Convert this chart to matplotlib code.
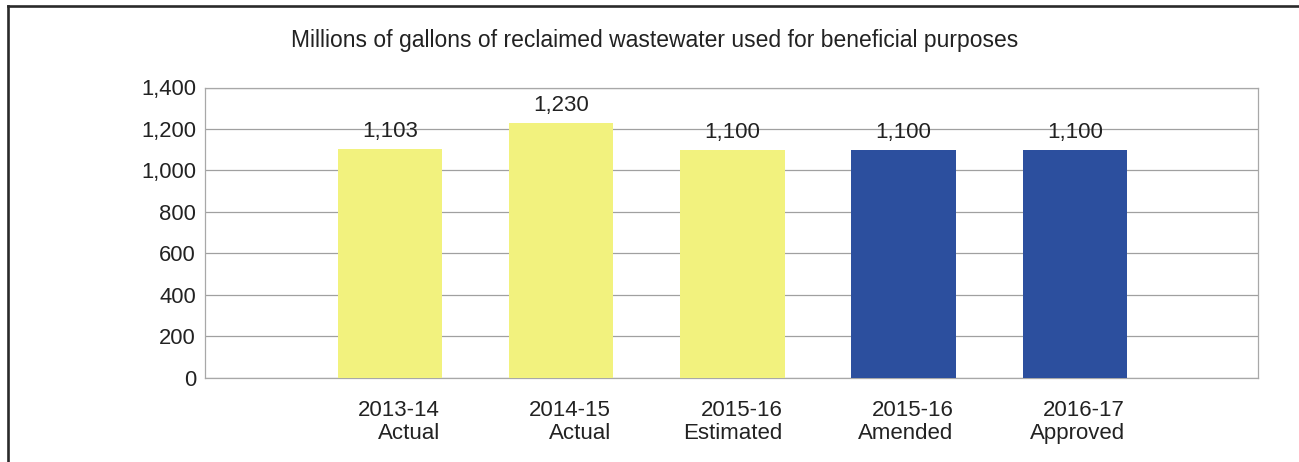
import matplotlib
matplotlib.use("Agg")
import matplotlib.pyplot as plt
import matplotlib.transforms as mtransforms
from matplotlib.lines import Line2D
import numpy as np

plt.rcParams['font.family'] = ['Liberation Sans', 'DejaVu Sans']

# ---- data ----
categories = ["2013-14\nActual", "2014-15\nActual", "2015-16\nEstimated",
              "2015-16\nAmended", "2016-17\nApproved"]
values = [1103, 1230, 1100, 1100, 1100]
value_labels = ["1,103", "1,230", "1,100", "1,100", "1,100"]
bar_colors = ["#F2F27E", "#F2F27E", "#F2F27E", "#2C4F9E", "#2C4F9E"]
yticks = [0, 200, 400, 600, 800, 1000, 1200, 1400]
ytick_labels = ["0", "200", "400", "600", "800", "1,000", "1,200", "1,400"]
title = "Millions of gallons of reclaimed wastewater used for beneficial purposes"

W, H, DPI = 1299, 462, 100
fig = plt.figure(figsize=(W / DPI, H / DPI), dpi=DPI)
fig.patch.set_facecolor("white")

ax = fig.add_axes([205 / W, 1 - 377.5 / H, (1258 - 205) / W, (377.5 - 87.5) / H])
x = np.arange(len(categories))
ax.bar(x, values, width=0.61, color=bar_colors, zorder=3)

ax.set_xlim(-1.08, 5.07)
ax.set_ylim(0, 1400)
ax.set_yticks(yticks)
ax.set_yticklabels(ytick_labels, fontsize=15.8, color="#222222")
ax.tick_params(axis="y", length=0, pad=6.5)

ax.set_xticks(x)
ax.set_xticklabels(categories, fontsize=16, color="#222222",
                   ha="right", multialignment="right", linespacing=1.12)
ax.tick_params(axis="x", length=0, pad=16)
offset = mtransforms.ScaledTranslation(50 / DPI, 0, fig.dpi_scale_trans)
for lab in ax.get_xticklabels():
    lab.set_transform(lab.get_transform() + offset)

ax.set_axisbelow(True)
ax.yaxis.grid(True, color="#A0A0A0", linewidth=0.9)
for side in ["left", "right", "top", "bottom"]:
    ax.spines[side].set_color("#A8A8A8")
    ax.spines[side].set_linewidth(0.9)

for xi, v, lbl in zip(x, values, value_labels):
    ax.annotate(lbl, (xi, v), xytext=(0, 8.4), textcoords="offset points",
                ha="center", va="baseline", fontsize=16, color="#222222", zorder=4)

fig.text(654.5 / W, 1 - 46.7 / H, title, ha="center", va="baseline",
         fontsize=16.5, color="#222222")

# page border (top and left)
fig.add_artist(Line2D([7.5 / W, 1.0], [1 - 5.5 / H, 1 - 5.5 / H],
                      transform=fig.transFigure, color="#2A2A2A", linewidth=1.9))
fig.add_artist(Line2D([8 / W, 8 / W], [1 - 5.5 / H, 0.0],
                      transform=fig.transFigure, color="#2A2A2A", linewidth=1.9))

fig.savefig("out.png", dpi=DPI, facecolor="white")
